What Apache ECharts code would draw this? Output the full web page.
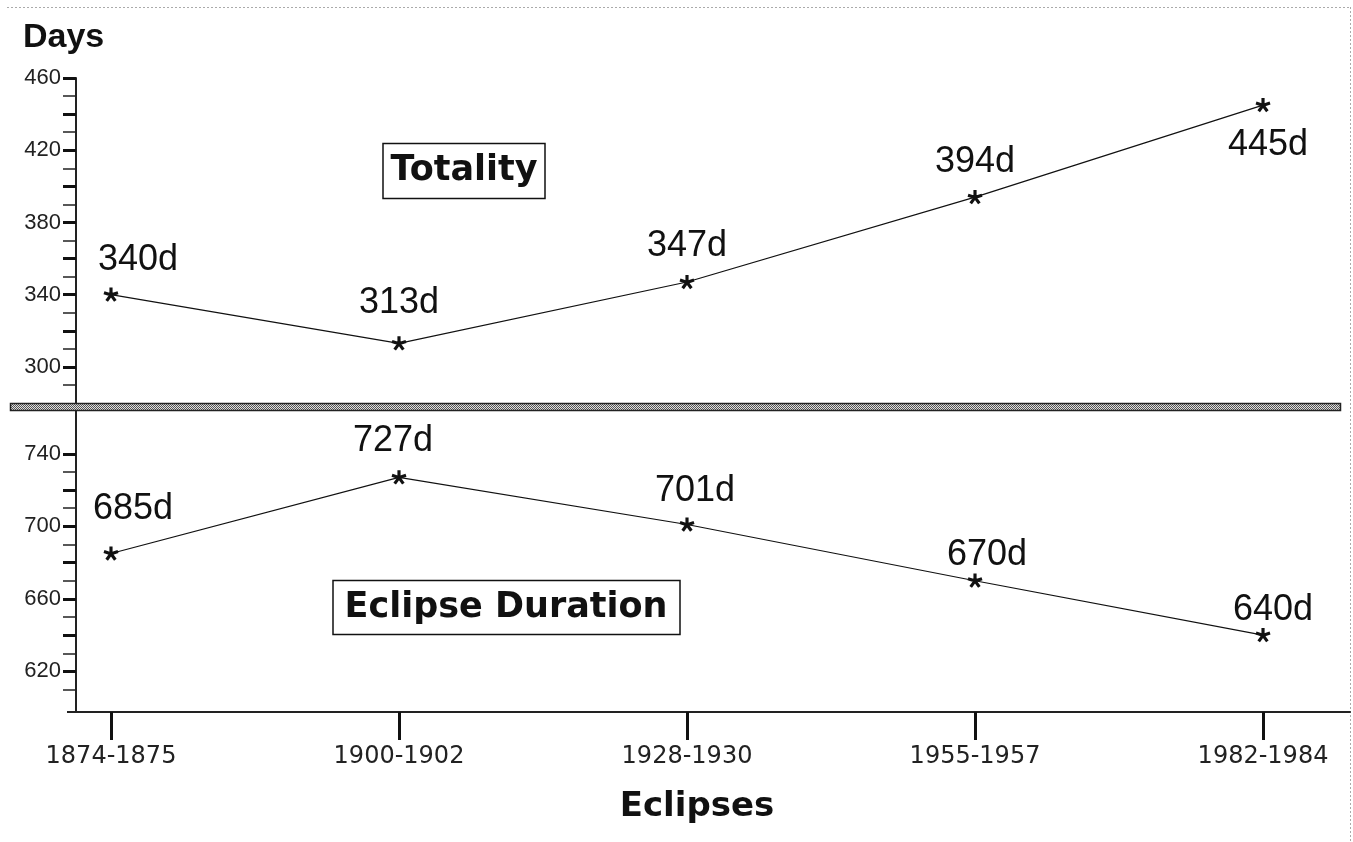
<!DOCTYPE html>
<html>
<head>
<meta charset="utf-8">
<script src="https://cdn.jsdelivr.net/npm/echarts@6/dist/echarts.min.js"></script>
<style>
  html, body { margin: 0; padding: 0; background: #fff; }
  #chart { width: 1353px; height: 842px; }
</style>
</head>
<body>
<div id="chart"></div>
<script>
// 日食区间
var eclipses = ['1874-1875', '1900-1902', '1928-1930', '1955-1957', '1982-1984'];
// 全食天数 (上半部分)
var totality = [340, 313, 347, 394, 445];
// 日食持续天数 (下半部分)
var duration = [685, 727, 701, 670, 640];

// y轴刻度
var topLabels = [300, 340, 380, 420, 460];
var topMajor = [300, 320, 340, 360, 380, 400, 420, 440, 460];
var topMinor = [290, 310, 330, 350, 370, 390, 410, 430, 450];
var botLabels = [620, 660, 700, 740];
var botMajor = [620, 640, 660, 680, 700, 720, 740];
var botMinor = [610, 630, 650, 670, 690, 710, 730];

// 标签偏移 (相对星号)
var totalityOffsets = [[27, -35], [0, -40], [0, -36], [0, -35], [5, 40]];
var durationOffsets = [[22, -44], [-6, -36], [8, -33], [12, -26], [10, -25]];

// 星号图形
function asteriskPath() {
    var L = 7, w = 1.5, p = '';
    for (var k = 0; k < 5; k++) {
        var a = -Math.PI / 2 + k * 2 * Math.PI / 5;
        var c = Math.cos(a), s = Math.sin(a);
        var nx = -s * w, ny = c * w;
        var bx = -c * 1.2, by = -s * 1.2;
        var pts = [
            [bx + nx, by + ny], [c * L + nx, s * L + ny],
            [c * L - nx, s * L - ny], [bx - nx, by - ny]
        ];
        p += 'M' + pts.map(function (q) { return (q[0] + 10).toFixed(2) + ' ' + (q[1] + 10).toFixed(2); }).join(' L') + ' Z ';
    }
    return 'path://' + p;
}
var star = asteriskPath();

// 分隔条的棋盘纹理
var pat = document.createElement('canvas');
pat.width = 2; pat.height = 2;
var pctx = pat.getContext('2d');
pctx.fillStyle = '#e0e0e0'; pctx.fillRect(0, 0, 2, 2);
pctx.fillStyle = '#555'; pctx.fillRect(0, 0, 1, 1); pctx.fillRect(1, 1, 1, 1);

function points(vals, offs) {
    return vals.map(function (v, i) {
        return {
            value: [i, v],
            label: { offset: offs[i] }
        };
    });
}

var xMin = -0.1215, xMax = 4.302;

function yAxisPair(grid, min, max, labels, major, minor) {
    return [{
        type: 'value', gridIndex: grid, min: min, max: max, position: 'left',
        splitLine: { show: false },
        axisLine: { show: true, onZero: false, lineStyle: { color: '#222', width: 2 } },
        axisTick: { show: true, customValues: major, length: 13, lineStyle: { color: '#111', width: 3 } },
        axisLabel: { customValues: labels, margin: 15, color: '#222', fontSize: 22, fontFamily: 'Liberation Sans' }
    }, {
        type: 'value', gridIndex: grid, min: min, max: max, position: 'left',
        splitLine: { show: false },
        axisLine: { show: false, onZero: false },
        axisTick: { show: true, customValues: minor, length: 13, lineStyle: { color: '#222', width: 1.5 } },
        axisLabel: { show: false }
    }];
}

var option = {
    backgroundColor: '#fff',
    animation: false,
    grid: [
        { left: 76, top: 78, width: 1274, height: 325 },
        { left: 76, top: 411, width: 1274, height: 301 }
    ],
    xAxis: [{
        type: 'value', gridIndex: 0, min: xMin, max: xMax, show: false
    }, {
        type: 'value', gridIndex: 1, min: xMin, max: xMax, position: 'bottom',
        splitLine: { show: false },
        axisLine: { show: true, onZero: false, lineStyle: { color: '#222', width: 2 } },
        axisTick: { show: true, customValues: [0, 1, 2, 3, 4], length: 28, lineStyle: { color: '#111', width: 3 } },
        axisLabel: {
            customValues: [0, 1, 2, 3, 4], margin: 33, color: '#222', fontSize: 24, fontFamily: 'DejaVu Sans',
            formatter: function (v) { return eclipses[Math.round(v)]; }
        }
    }],
    yAxis: yAxisPair(0, 280, 460, topLabels, topMajor, topMinor)
        .concat(yAxisPair(1, 597.6, 763.6, botLabels, botMajor, botMinor)),
    series: [{
        name: 'Totality', type: 'line',
        xAxisIndex: 0, yAxisIndex: 0,
        data: points(totality, totalityOffsets),
        symbol: star, symbolSize: 15, symbolKeepAspect: true,
        itemStyle: { color: '#111' },
        lineStyle: { color: '#111', width: 1.2 },
        label: {
            show: true, position: 'inside', color: '#111',
            fontSize: 36, fontFamily: 'Liberation Sans',
            formatter: function (p) { return p.value[1] + 'd'; }
        }
    }, {
        name: 'Eclipse Duration', type: 'line',
        xAxisIndex: 1, yAxisIndex: 2,
        data: points(duration, durationOffsets),
        symbol: star, symbolSize: 15, symbolKeepAspect: true,
        itemStyle: { color: '#111' },
        lineStyle: { color: '#111', width: 1.2 },
        label: {
            show: true, position: 'inside', color: '#111',
            fontSize: 36, fontFamily: 'Liberation Sans',
            formatter: function (p) { return p.value[1] + 'd'; }
        }
    }],
    graphic: [
        // 虚线边框
        { type: 'line', shape: { x1: 7, y1: 7.5, x2: 1350, y2: 7.5 }, style: { stroke: '#aaa', lineWidth: 1, lineDash: [2, 2] } },
        { type: 'line', shape: { x1: 1350.5, y1: 7, x2: 1350.5, y2: 842 }, style: { stroke: '#aaa', lineWidth: 1, lineDash: [2, 2] } },
        // 分隔条
        { type: 'rect', shape: { x: 10.5, y: 403.5, width: 1330, height: 7 }, style: { fill: { image: pat, repeat: 'repeat' }, stroke: '#222', lineWidth: 1.5 }, z: 10 },
        // x轴左侧延伸
        { type: 'line', shape: { x1: 67, y1: 712, x2: 77, y2: 712 }, style: { stroke: '#222', lineWidth: 2 } },
        // 标题框
        { type: 'rect', shape: { x: 383, y: 143.5, width: 162, height: 55 }, style: { fill: '#fff', stroke: '#111', lineWidth: 1.5 } },
        { type: 'text', x: 464, y: 171, style: { text: 'Totality', font: 'bold 35px "DejaVu Sans"', fill: '#111', textAlign: 'center', textVerticalAlign: 'middle' } },
        { type: 'rect', shape: { x: 333, y: 580.5, width: 347, height: 54 }, style: { fill: '#fff', stroke: '#111', lineWidth: 1.5 } },
        { type: 'text', x: 506, y: 608, style: { text: 'Eclipse Duration', font: 'bold 35px "DejaVu Sans"', fill: '#111', textAlign: 'center', textVerticalAlign: 'middle' } },
        // 轴标题
        { type: 'text', x: 23, y: 38, style: { text: 'Days', font: 'bold 34px "Liberation Sans"', fill: '#111', textAlign: 'left', textVerticalAlign: 'middle' } },
        { type: 'text', x: 697, y: 807, style: { text: 'Eclipses', font: 'bold 34px "DejaVu Sans"', fill: '#111', textAlign: 'center', textVerticalAlign: 'middle' } }
    ]
};

var myChart = echarts.init(document.getElementById('chart'));
myChart.setOption(option);
window.addEventListener('resize', function () {
    myChart.resize();
}, false);
</script>
</body>
</html>
